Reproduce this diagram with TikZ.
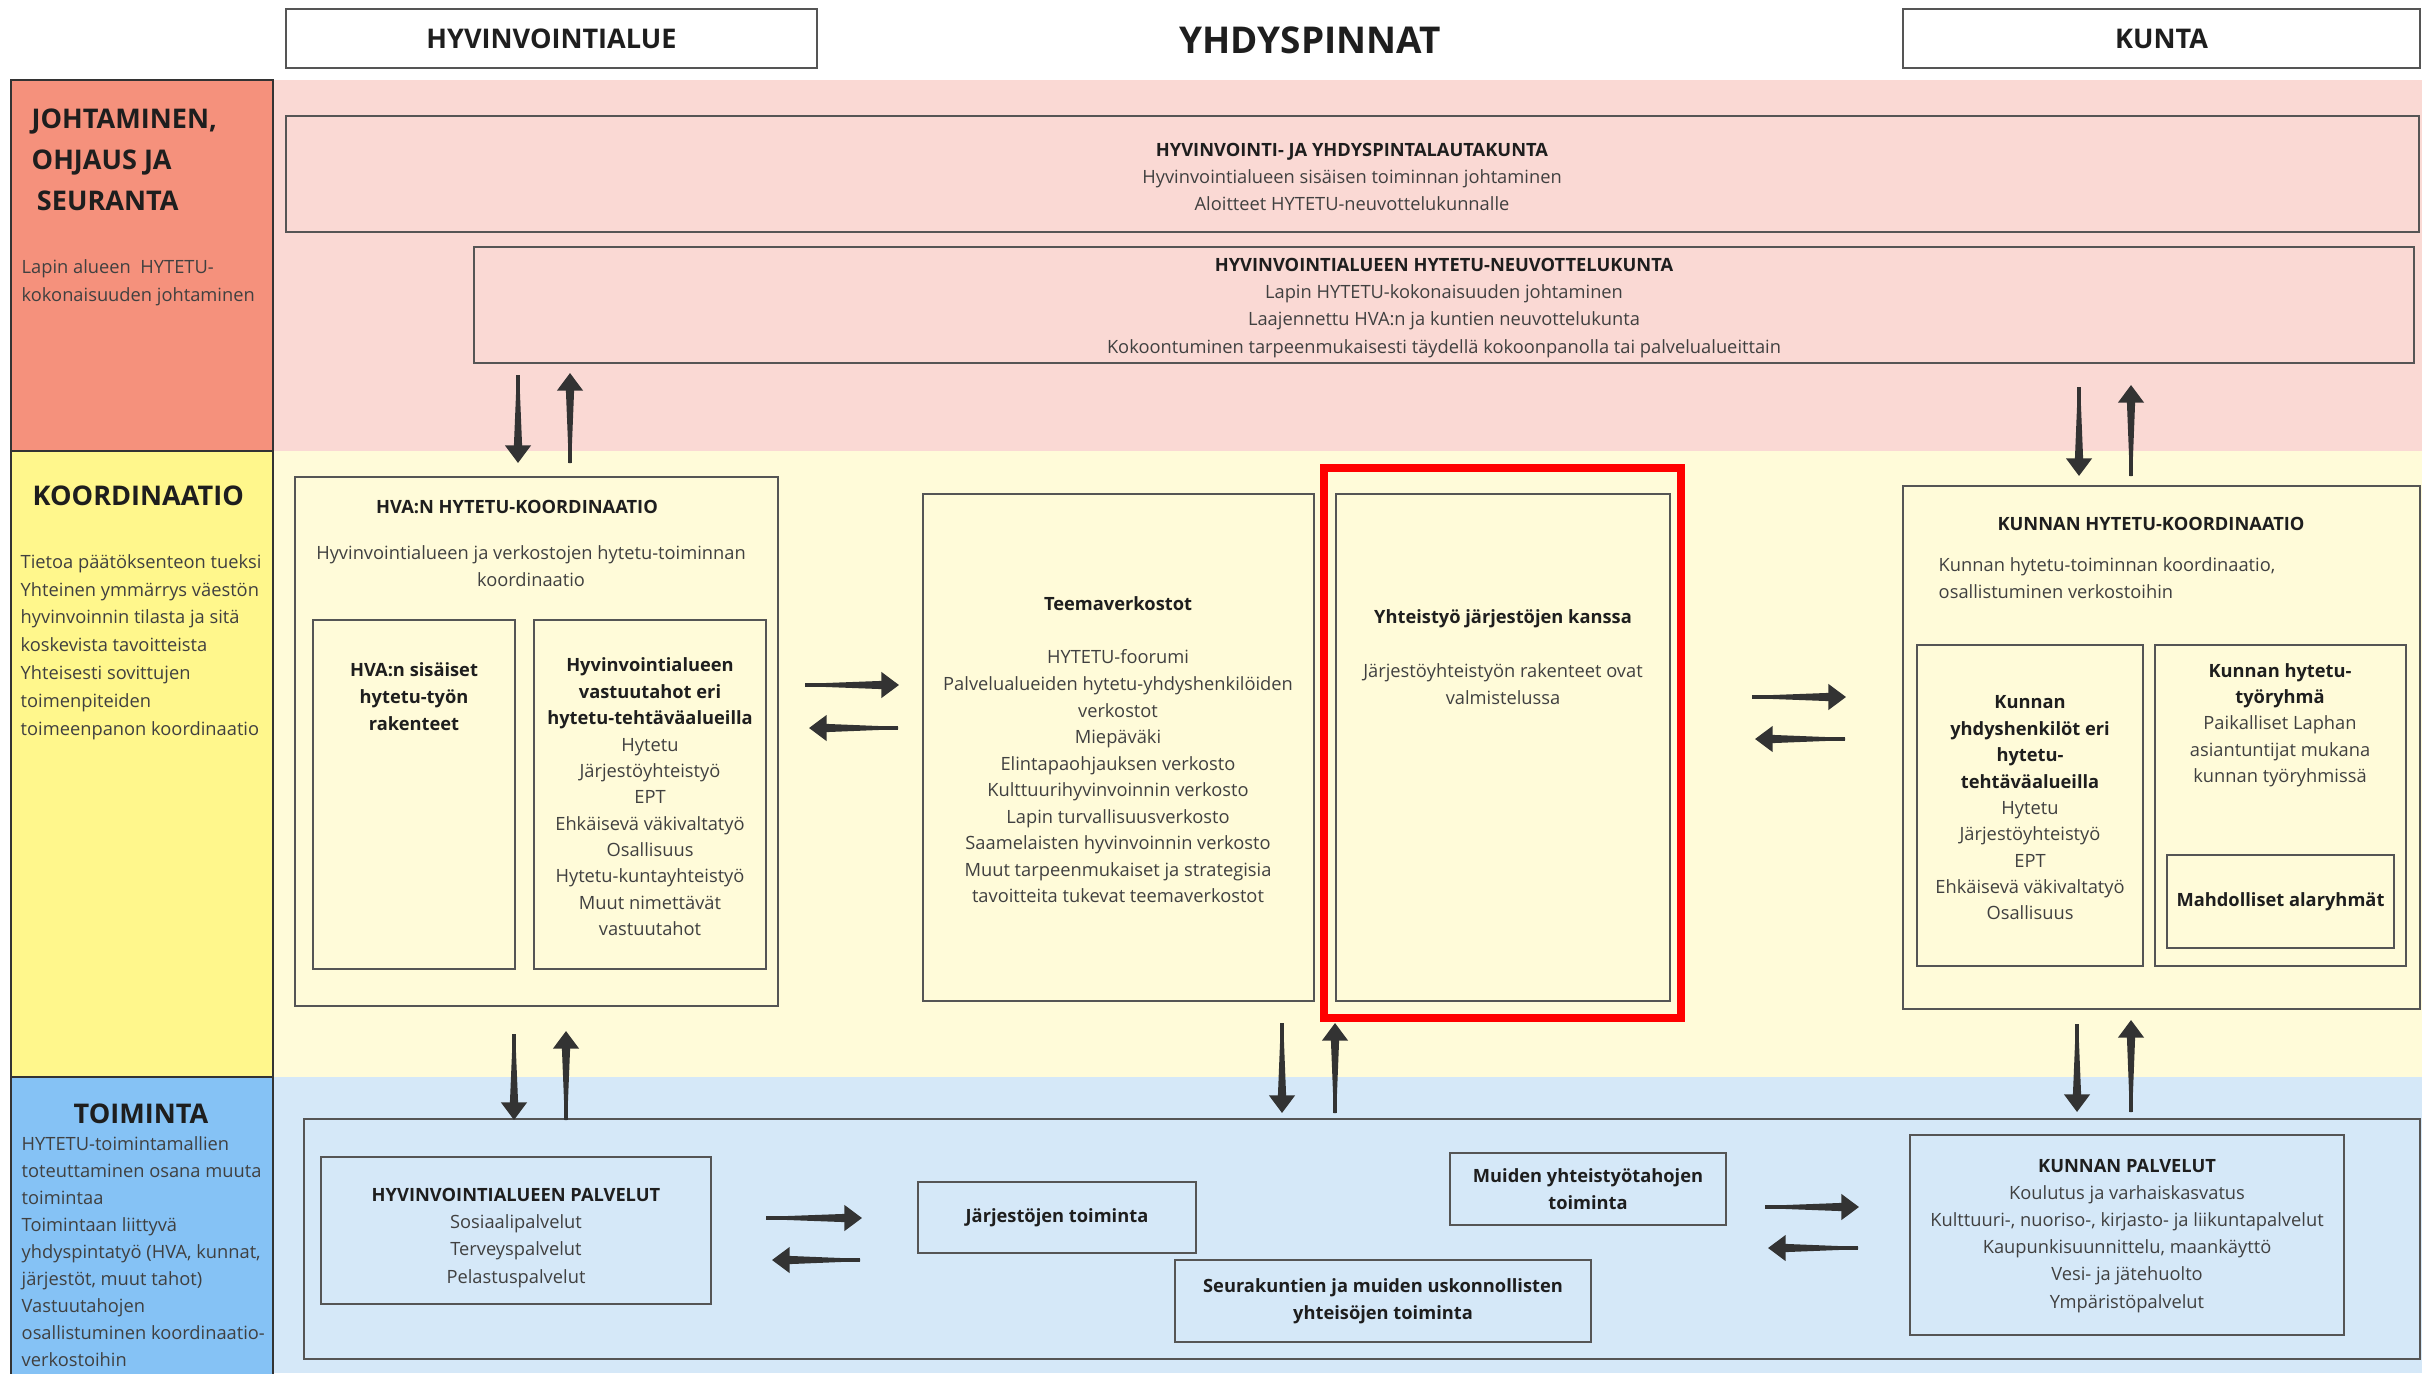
\documentclass[tikz,border=0pt]{standalone}
\usepackage{fontspec}
\setmainfont{Open Sans}
\usetikzlibrary{arrows.meta,fit,calc}
\definecolor{redL}{HTML}{F5917C}
\definecolor{pinkB}{HTML}{FAD9D4}
\definecolor{yellowL}{HTML}{FFF78C}
\definecolor{yellowB}{HTML}{FFFBD9}
\definecolor{blueL}{HTML}{85C2F5}
\definecolor{blueB}{HTML}{D5E8F8}
\definecolor{boxc}{HTML}{555555}
\definecolor{edgec}{HTML}{333333}
\definecolor{arrc}{HTML}{333333}
\definecolor{bodyc}{HTML}{404040}
\definecolor{titc}{HTML}{1E1E1E}
\newcommand\bt[1]{{\color{titc}\bfseries #1}}
\begin{document}
\begin{tikzpicture}[x=0.01cm,y=-0.01cm,
  box/.style={draw=boxc, line width=0.6pt, inner sep=0pt},
  colbox/.style={draw=edgec, line width=0.7pt, inner sep=0pt},
  body/.style={font=\fontsize{5.2}{7.7}\selectfont, text=bodyc, inner sep=0pt, align=center},
  bodyl/.style={font=\fontsize{5.2}{7.85}\selectfont, text=bodyc, inner sep=0pt, align=left, anchor=west},
  head/.style={font=\fontsize{7.7}{11.7}\selectfont\bfseries, text=titc, inner sep=0pt},
  arr/.style={draw=arrc, line width=0.9pt, -{Triangle[length=5pt,width=7.2pt]}}]
\useasboundingbox (0,0) rectangle (2422,1373);
\fill[white] (0,0) rectangle (2422,1373);
% bands
\fill[pinkB] (273,80) rectangle (2422,451);
\fill[yellowB] (273,451) rectangle (2422,1077);
\fill[blueB] (273,1077) rectangle (2422,1373);
% left column
\node[colbox, fill=redL, fit={(11,80) (273,451)}] (colR) {};
\node[colbox, fill=yellowL, fit={(11,451) (273,1077)}] (colY) {};
\node[colbox, fill=blueL, fit={(11,1077) (273,1385)}] (colB) {};
\node[head, align=left, anchor=west] (tJoh) at (31,160) {JOHTAMINEN,\\OHJAUS JA\\\hspace*{1.5pt}SEURANTA};
\node[bodyl] (tLapin) at (21,283) {Lapin alueen\ \ HYTETU-\\kokonaisuuden johtaminen};
\node[head, anchor=west] (tKoord) at (32,496) {KOORDINAATIO};
\node[bodyl, font=\fontsize{5.2}{7.9}\selectfont] (tYel) at (20,647) {Tietoa päätöksenteon tueksi\\Yhteinen ymmärrys väestön\\hyvinvoinnin tilasta ja sitä\\koskevista tavoitteista\\Yhteisesti sovittujen\\toimenpiteiden\\toimeenpanon koordinaatio};
\node[head] (tToim) at (141,1114) {TOIMINTA};
\node[bodyl, font=\fontsize{5.2}{7.68}\selectfont] (tBlue) at (21,1252) {HYTETU-toimintamallien\\toteuttaminen osana muuta\\toimintaa\\Toimintaan liittyvä\\yhdyspintatyö (HVA, kunnat,\\järjestöt, muut tahot)\\Vastuutahojen\\osallistuminen koordinaatio-\\verkostoihin};
% header
\node[box, line width=0.8pt, fill=white, fit={(286,9) (817,68)}] (hvHead) {};
\node[head] (tHvHead) at (hvHead.center) {HYVINVOINTIALUE};
\node[font=\fontsize{10.5}{12}\selectfont\bfseries, text=titc, inner sep=0pt] (tTitle) at (1310,40) {YHDYSPINNAT};
\node[box, line width=0.8pt, fill=white, fit={(1903,9) (2420,68)}] (kuHead) {};
\node[head] (tKuHead) at (kuHead.center) {KUNTA};
% pink boxes
\node[box, fit={(286,116) (2419,232)}] (lauta) {};
\node[body] (tLauta) at (1352,177) {\bt{HYVINVOINTI- JA YHDYSPINTALAUTAKUNTA}\\Hyvinvointialueen sisäisen toiminnan johtaminen\\Aloitteet HYTETU-neuvottelukunnalle};
\node[box, fit={(474,247) (2414,363)}] (neuvo) {};
\node[body] (tNeuvo) at (1444,308) {\bt{HYVINVOINTIALUEEN HYTETU-NEUVOTTELUKUNTA}\\Lapin HYTETU-kokonaisuuden johtaminen\\Laajennettu HVA:n ja kuntien neuvottelukunta\\Kokoontuminen tarpeenmukaisesti täydellä kokoonpanolla tai palvelualueittain};
% yellow: HVA coordination
\node[box, fit={(295,477) (778,1006)}] (hvaK) {};
\node[body] (tHvaK) at (517,507) {\bt{HVA:N HYTETU-KOORDINAATIO}};
\node[body] (tHvaKs) at (531,566) {Hyvinvointialueen ja verkostojen hytetu-toiminnan\\koordinaatio};
\node[box, fit={(313,620) (515,969)}] (hvaIn1) {};
\node[body] (tHvaIn1) at (414,697) {\bt{HVA:n sisäiset}\\\bt{hytetu-työn}\\\bt{rakenteet}};
\node[box, fit={(534,620) (766,969)}] (hvaIn2) {};
\node[body, font=\fontsize{5.2}{7.5}\selectfont] (tHvaIn2) at (650,797) {\bt{Hyvinvointialueen}\\\bt{vastuutahot eri}\\\bt{hytetu-tehtäväalueilla}\\Hytetu\\Järjestöyhteistyö\\EPT\\Ehkäisevä väkivaltatyö\\Osallisuus\\Hytetu-kuntayhteistyö\\Muut nimettävät\\vastuutahot};
% teemaverkostot
\node[box, fit={(923,494) (1314,1001)}] (teema) {};
\node[body, font=\fontsize{5.2}{7.55}\selectfont] (tTeema) at (1118,750) {\bt{Teemaverkostot}\\[7.55pt]HYTETU-foorumi\\Palvelualueiden hytetu-yhdyshenkilöiden\\verkostot\\Miepäväki\\Elintapaohjauksen verkosto\\Kulttuurihyvinvoinnin verkosto\\Lapin turvallisuusverkosto\\Saamelaisten hyvinvoinnin verkosto\\Muut tarpeenmukaiset ja strategisia\\tavoitteita tukevat teemaverkostot};
% yhteistyo
\node[draw=red, line width=2.3pt, inner sep=0pt, fit={(1324,468) (1681,1018)}] (redFrame) {};
\node[box, fit={(1336,494) (1670,1001)}] (yhteis) {};
\node[body] (tYhteis) at (1503,657) {\bt{Yhteistyö järjestöjen kanssa}\\[7.7pt]Järjestöyhteistyön rakenteet ovat\\valmistelussa};
% kunta coordination
\node[box, fit={(1903,486) (2420,1009)}] (kuK) {};
\node[body] (tKuK) at (2151,524) {\bt{KUNNAN HYTETU-KOORDINAATIO}};
\node[bodyl] (tKuKs) at (1938,578) {Kunnan hytetu-toiminnan koordinaatio,\\osallistuminen verkostoihin};
\node[box, fit={(1917,645) (2143,966)}] (kIn1) {};
\node[body, font=\fontsize{5.2}{7.5}\selectfont] (tkIn1) at (2030,808) {\bt{Kunnan}\\\bt{yhdyshenkilöt eri}\\\bt{hytetu-}\\\bt{tehtäväalueilla}\\Hytetu\\Järjestöyhteistyö\\EPT\\Ehkäisevä väkivaltatyö\\Osallisuus};
\node[box, fit={(2155,645) (2406,966)}] (kIn2) {};
\node[body, font=\fontsize{5.2}{7.5}\selectfont] (tkIn2) at (2280,725) {\bt{Kunnan hytetu-}\\\bt{työryhmä}\\Paikalliset Laphan\\asiantuntijat mukana\\kunnan työryhmissä};
\node[box, fit={(2167,855) (2394,948)}] (mahd) {};
\node[body] (tMahd) at (mahd.center) {\bt{Mahdolliset alaryhmät}};
% blue
\node[box, line width=0.8pt, fit={(304,1119) (2420,1359)}] (toimBox) {};
\node[box, fit={(321,1157) (711,1304)}] (hvPalv) {};
\node[body] (tHvPalv) at (516,1238) {\bt{HYVINVOINTIALUEEN PALVELUT}\\Sosiaalipalvelut\\Terveyspalvelut\\Pelastuspalvelut};
\node[box, fit={(918,1182) (1196,1253)}] (jarj) {};
\node[body] (tJarj) at (jarj.center) {\bt{Järjestöjen toiminta}};
\node[box, fit={(1450,1153) (1726,1225)}] (muid) {};
\node[body] (tMuid) at (muid.center) {\bt{Muiden yhteistyötahojen}\\\bt{toiminta}};
\node[box, fit={(1175,1260) (1591,1342)}] (seura) {};
\node[body] (tSeura) at (seura.center) {\bt{Seurakuntien ja muiden uskonnollisten}\\\bt{yhteisöjen toiminta}};
\node[box, fit={(1910,1135) (2344,1335)}] (kuPalv) {};
\node[body] (tKuPalv) at (2127,1236) {\bt{KUNNAN PALVELUT}\\Koulutus ja varhaiskasvatus\\Kulttuuri-, nuoriso-, kirjasto- ja liikuntapalvelut\\Kaupunkisuunnittelu, maankäyttö\\Vesi- ja jätehuolto\\Ympäristöpalvelut};
% arrows (tapered shaft + triangular head)
\foreach \n/\xa/\ya/\xb/\yb in {
  1/518/375/518/463, 2/570/463/570/373,
  3/2079/387/2079/476, 4/2131/476/2131/385,
  5/805/685/899/685, 6/898/728/809/728,
  7/1752/697/1846/697, 8/1845/739/1755/739,
  9/514/1034/514/1120, 10/566/1120/566/1031,
  11/1282/1023/1282/1113, 12/1335/1113/1335/1023,
  13/2077/1024/2077/1112, 14/2131/1112/2131/1020,
  15/766/1218/862/1218, 16/860/1260/772/1260,
  17/1765/1207/1859/1207, 18/1858/1248/1768/1248}{
  \coordinate (s\n) at (\xa,\ya);
  \coordinate (e\n) at (\xb,\yb);
  \fill[arrc] ($(s\n)!0.012cm!90:(e\n)$) -- ($(e\n)!0.15cm!(s\n)!0.042cm!-90:(s\n)$)
     -- ($(e\n)!0.15cm!(s\n)!0.042cm!90:(s\n)$) -- ($(s\n)!0.012cm!-90:(e\n)$) -- cycle;
  \draw[arr] (s\n) -- (e\n);
}
\end{tikzpicture}
\end{document}
